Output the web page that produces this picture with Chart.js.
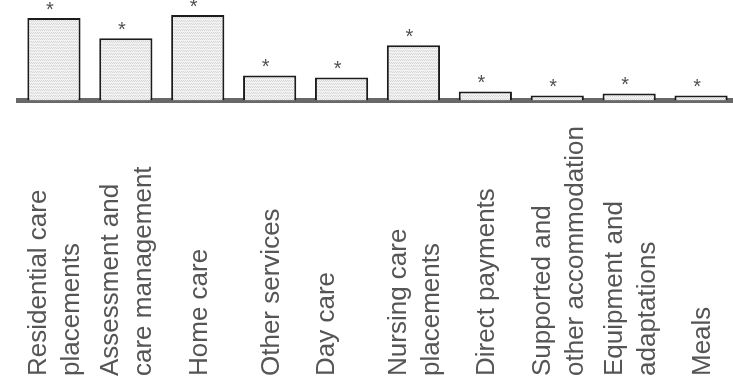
<!DOCTYPE html>
<html>
<head>
  <title>Spending by service</title>
  <script src="https://cdn.jsdelivr.net/npm/chart.js"></script>
  <style>
    body { margin: 0; background: #fff; overflow: hidden; }
    #wrap { width: 737px; height: 390px; }
    canvas { display: block; }
  </style>
</head>
<body>
  <div id="wrap"><canvas id="bars" width="737" height="390"></canvas></div>

  <script>
    // categories (one array per label, one string per line)
    const categories = [
      ['Residential care', 'placements'],
      ['Assessment and', 'care management'],
      ['Home care'],
      ['Other services'],
      ['Day care', ''],
      ['Nursing care', 'placements'],
      ['Direct payments'],
      ['Supported and', 'other accommodation'],
      ['Equipment and', 'adaptations'],
      ['Meals']
    ];
    const values = [82, 62, 85, 25, 23, 55, 9, 5, 7, 5];
    const marks = ['*', '*', '*', '*', '*', '*', '*', '*', '*', '*'];

    const FONT = '"Liberation Sans", Arial, sans-serif';
    const LINE = 33;

    const canvas = document.getElementById('bars');
    const ctx = canvas.getContext('2d');

    // light stippled fill like the printed bars
    function stipple() {
      const c = document.createElement('canvas');
      c.width = 4; c.height = 3;
      const g = c.getContext('2d');
      g.fillStyle = '#f3f3f3';
      g.fillRect(0, 0, 4, 3);
      g.fillStyle = '#d6d6d6';
      g.fillRect(0, 0, 1, 1); g.fillRect(2, 0, 1, 1);
      g.fillRect(1, 2, 1, 1); g.fillRect(3, 2, 1, 1);
      return ctx.createPattern(c, 'repeat');
    }

    // asterisk above each bar
    const markPlugin = {
      id: 'marks',
      afterDatasetsDraw(chart) {
        const c = chart.ctx;
        const meta = chart.getDatasetMeta(0);
        c.save();
        c.font = '20px ' + FONT;
        c.fillStyle = '#505050';
        c.textAlign = 'center';
        c.textBaseline = 'alphabetic';
        meta.data.forEach((bar, i) => {
          c.fillText(marks[i], bar.x - 4, bar.y - 2);
        });
        c.restore();
      }
    };

    // rotated category labels, start-aligned at the bottom
    const labelPlugin = {
      id: 'bottomLabels',
      afterDraw(chart) {
        const c = chart.ctx;
        const xs = chart.scales.x;
        c.save();
        c.font = '26px ' + FONT;
        c.fillStyle = '#555';
        c.textAlign = 'left';
        c.textBaseline = 'alphabetic';
        categories.forEach((lines, i) => {
          const cx = xs.getPixelForValue(i);
          lines.forEach((line, j) => {
            const bx = cx + 9 - (lines.length - 1) * LINE / 2 + j * LINE;
            c.save();
            c.translate(bx, 376);
            c.rotate(-Math.PI / 2);
            c.fillText(line, 0, 0);
            c.restore();
          });
        });
        c.restore();
      }
    };

    new Chart(ctx, {
      type: 'bar',
      data: {
        labels: categories.map(l => l.join(' ').trim()),
        datasets: [{
          data: values,
          backgroundColor: stipple(),
          borderColor: '#1c1c1c',
          borderWidth: 2,
          categoryPercentage: 1,
          barPercentage: 0.74
        }]
      },
      options: {
        responsive: false,
        animation: false,
        layout: { padding: { left: 18, right: 0, top: 0, bottom: 289.5 } },
        plugins: { legend: { display: false }, tooltip: { enabled: false } },
        scales: {
          x: {
            z: 1,
            grid: { display: false, drawTicks: false },
            border: { display: true, color: '#686868', width: 5 },
            ticks: { display: false }
          },
          y: { display: false, min: 0, max: 100 }
        }
      },
      plugins: [markPlugin, labelPlugin]
    });
  </script>
</body>
</html>
